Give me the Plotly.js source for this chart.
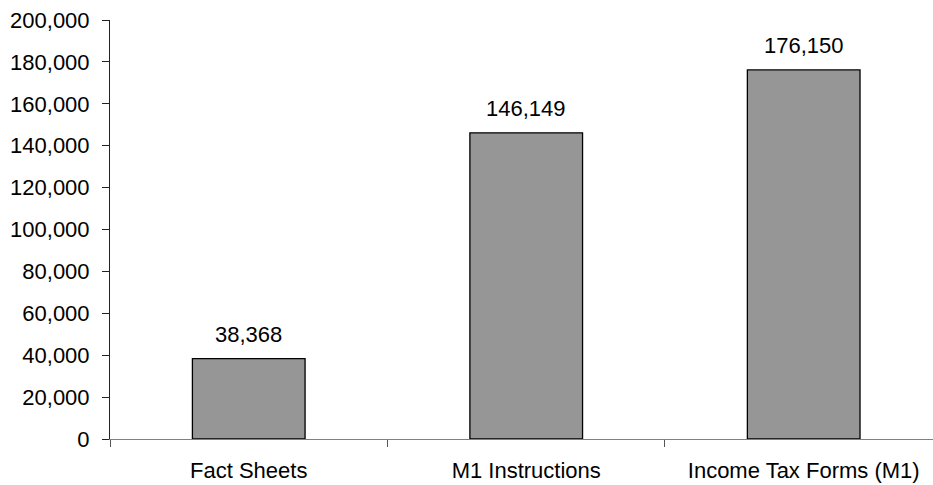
<!DOCTYPE html>
<html>
<head>
<meta charset="utf-8">
<script src="https://cdn.plot.ly/plotly-3.0.1.min.js"></script>
<style>html,body{margin:0;padding:0;background:#fff;overflow:hidden}</style>
</head>
<body>
<div id="chart" style="width:933px;height:485px"></div>
<script>
const categories = ["Fact Sheets", "M1 Instructions", "Income Tax Forms (M1)"];
const values = [38368, 146149, 176150];
const yTickVals = [0, 20000, 40000, 60000, 80000, 100000, 120000, 140000, 160000, 180000, 200000];

const font = {family: "Liberation Sans, Arial, sans-serif", size: 22, color: "#000"};

const trace = {
  type: "bar",
  x: categories,
  y: values,
  width: 0.406,
  marker: {color: "#969696", line: {color: "#000", width: 1.3}},
  hoverinfo: "skip"
};

const annotations = categories.map((c, i) => ({
  x: c, y: values[i], xref: "x", yref: "y",
  text: values[i].toLocaleString("en-US"),
  showarrow: false, yanchor: "bottom", yshift: 10,
  font: font
}));

const layout = {
  width: 933, height: 485,
  margin: {l: 110, r: 0, t: 20, b: 46, pad: 0},
  paper_bgcolor: "#fff", plot_bgcolor: "#fff",
  font: font,
  showlegend: false,
  bargap: 0.594,
  xaxis: {
    type: "category",
    range: [-0.5, 2.466],
    tickson: "boundaries",
    ticks: "outside", ticklen: 7, tickwidth: 1, tickcolor: "#555",
    showline: true, linecolor: "#808080", linewidth: 1.3,
    showgrid: false, zeroline: false,
    tickfont: font,
    ticklabelstandoff: 11
  },
  yaxis: {
    range: [0, 200000],
    tickvals: yTickVals,
    tickformat: ",",
    ticks: "outside", ticklen: 7, tickwidth: 1, tickcolor: "#222",
    showline: true, linecolor: "#222", linewidth: 1,
    showgrid: false, zeroline: false,
    tickfont: font,
    ticklabelstandoff: 8
  },
  annotations: annotations
};

Plotly.newPlot("chart", [trace], layout, {displayModeBar: false, staticPlot: true});
</script>
</body>
</html>
